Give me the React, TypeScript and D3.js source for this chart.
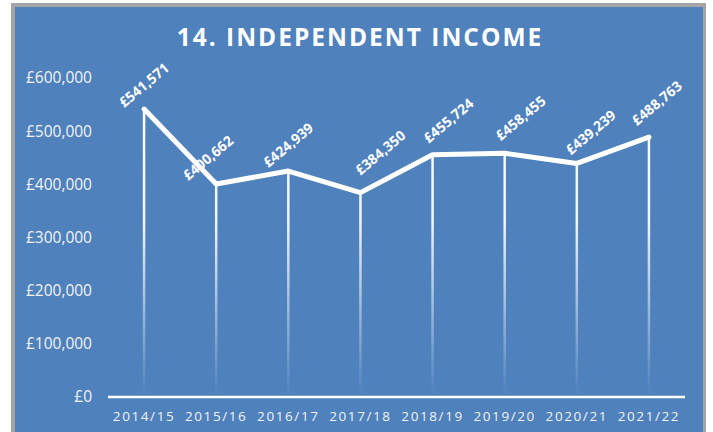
import React from 'react';
import * as d3 from 'd3';

const years = ['2014/15', '2015/16', '2016/17', '2017/18', '2018/19', '2019/20', '2020/21', '2021/22'];
const income = [541571, 400662, 424939, 384350, 455724, 458455, 439239, 488763];
const yTicks = [0, 100000, 200000, 300000, 400000, 500000, 600000];

// label placement nudges (Excel had these dragged around a bit)
const labelNudge = [[0, -24], [-8, -26], [0, -26], [20, -40], [16, -34], [16, -35], [14, -31], [8, -34]];

const W = 713;
const H = 432;
const BLUE = '#4f81bd';

export default function App() {
  const x = d3.scaleBand().domain(years).range([108, 685]).paddingInner(0).paddingOuter(0);
  const y = d3.scaleLinear().domain([0, 600000]).range([397, 78]);
  const cx = (d: string) => (x(d) as number) + x.bandwidth() / 2;
  const money = (v: number) => '£' + d3.format(',')(v);

  const line = d3.line<number>()
    .x((_, i) => cx(years[i]))
    .y((d) => y(d));

  return (
    <div style={{ position: 'absolute', left: 0, top: 0 }}>
      <svg width={W} height={H} viewBox={`0 0 ${W} ${H}`} style={{ display: 'block' }}>
        <defs>
          <linearGradient id="drop" gradientUnits="userSpaceOnUse" x1="0" x2="0" y1={y(600000)} y2={y(0)}>
            <stop offset="0" stopColor="#fff" stopOpacity="1" />
            <stop offset="0.45" stopColor="#fff" stopOpacity="0.92" />
            <stop offset="0.78" stopColor="#fff" stopOpacity="0.35" />
            <stop offset="1" stopColor="#fff" stopOpacity="0" />
          </linearGradient>
        </defs>
        <rect x={0} y={0} width={W} height={H} fill="#fff" />
        <rect x={11} y={3} width={695} height={H} fill="#a5a5a5" />
        <rect x={15} y={7} width={688} height={H} fill={BLUE} />

        <text x={360} y={46} textAnchor="middle" fill="#fff" fontFamily="'Open Sans', sans-serif"
          fontWeight={700} fontSize={24.5} letterSpacing={2}>14. INDEPENDENT INCOME</text>

        {yTicks.map((t) => (
          <text key={t} x={92} y={y(t)} dy="0.35em" textAnchor="end" fill="#f2f2f2"
            fontFamily="'Open Sans', sans-serif" fontSize={15.5}>{money(t)}</text>
        ))}

        {years.map((yr, i) => (
          <line key={yr} x1={cx(yr)} x2={cx(yr)} y1={y(income[i])} y2={y(0) - 4}
            stroke="url(#drop)" strokeWidth={2.5} />
        ))}

        <line x1={x.range()[0]} x2={x.range()[1]} y1={y(0)} y2={y(0)} stroke="#fff" strokeWidth={2.5} />

        {years.map((yr) => (
          <text key={yr} x={cx(yr)} y={421} textAnchor="middle" fill="#f2f2f2"
            fontFamily="'Open Sans', sans-serif" fontSize={13.5} letterSpacing={1.6}>{yr}</text>
        ))}

        <path d={line(income) ?? ''} fill="none" stroke="#fff" strokeWidth={5}
          strokeLinejoin="round" strokeLinecap="round" />

        {years.map((yr, i) => {
          const [dx, dy] = labelNudge[i];
          const lx = cx(yr) + dx;
          const ly = y(income[i]) + dy;
          return (
            <text key={yr} x={lx} y={ly} dy="0.35em" textAnchor="middle" fill="#fff"
              fontFamily="'Open Sans', sans-serif" fontWeight={700} fontSize={14}
              transform={`rotate(-40 ${lx} ${ly})`}>{money(income[i])}</text>
          );
        })}
      </svg>
    </div>
  );
}
